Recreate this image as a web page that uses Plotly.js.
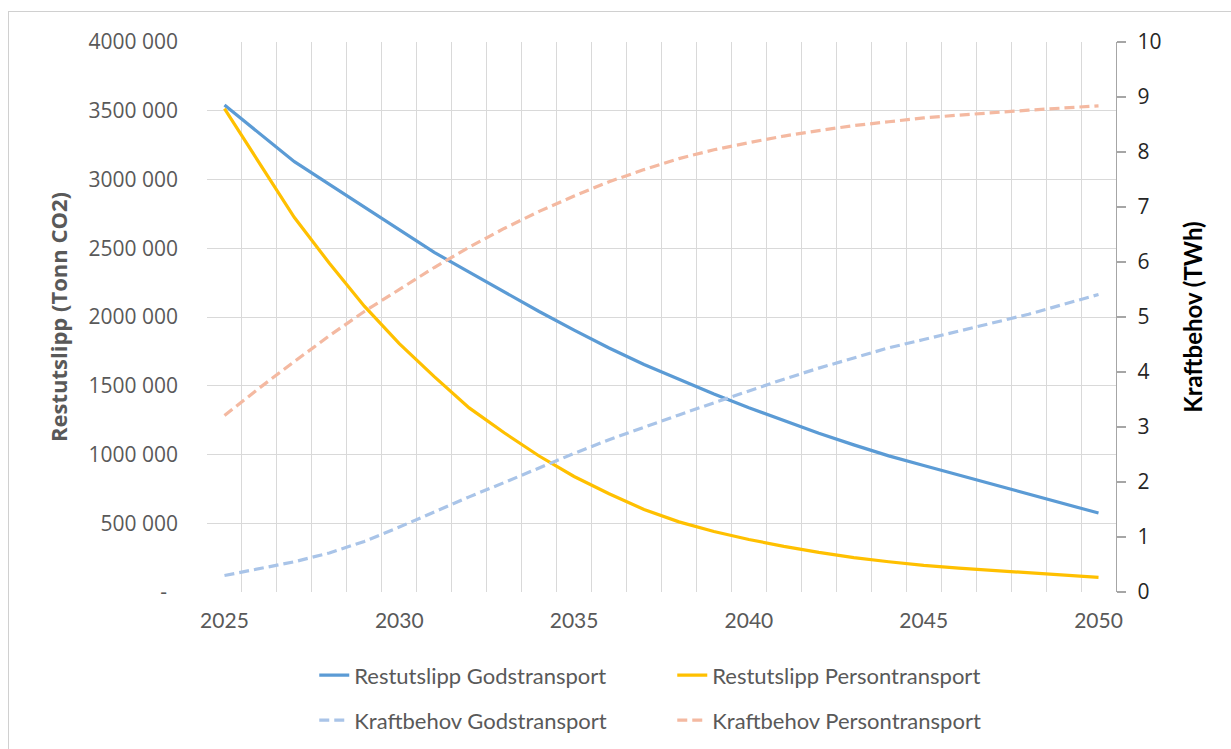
<!DOCTYPE html>
<html>
<head>
<meta charset="utf-8">
<script src="https://cdn.plot.ly/plotly-3.0.1.min.js"></script>
<style>
  html, body { margin: 0; padding: 0; background: #ffffff; }
  #wrap { position: relative; width: 1231px; height: 749px; overflow: hidden; }
  #chart { position: absolute; left: 0; top: 0; width: 1231px; height: 749px; }
  #frame { position: absolute; left: 8px; top: 11px; width: 1240px; height: 760px;
           border-left: 1px solid #d0d0d0; border-top: 1px solid #d0d0d0; pointer-events: none; }
</style>
</head>
<body>
<div id="wrap">
  <div id="chart"></div>
  <div id="frame"></div>
</div>
<script>
// ---- data ----
const years = [2025, 2026, 2027, 2028, 2029, 2030, 2031, 2032, 2033, 2034, 2035, 2036, 2037,
               2038, 2039, 2040, 2041, 2042, 2043, 2044, 2045, 2046, 2047, 2048, 2049, 2050];

// Restutslipp (Tonn CO2), left axis
const restGods = [3541000, 3336000, 3130000, 2965000, 2800000, 2635000, 2470000, 2326000, 2183000,
                  2040000, 1905000, 1775000, 1655000, 1545000, 1440000, 1340000, 1245000, 1155000,
                  1070000, 990000, 920000, 850000, 780000, 710000, 640000, 574000];
const restPerson = [3515000, 3117000, 2723000, 2391000, 2079000, 1807000, 1566000, 1339000, 1158000,
                    989000, 840000, 715000, 600000, 510000, 440000, 382000, 332000, 288000,
                    250000, 220000, 193000, 174000, 156000, 140000, 124000, 106000];

// Kraftbehov (TWh), right axis
const kraftGods = [0.30, 0.42, 0.55, 0.71, 0.92, 1.18, 1.46, 1.73, 1.99, 2.26, 2.52, 2.77, 3.00,
                   3.22, 3.44, 3.66, 3.87, 4.07, 4.26, 4.44, 4.59, 4.74, 4.89, 5.05, 5.23, 5.41];
const kraftPerson = [3.21, 3.71, 4.19, 4.66, 5.10, 5.50, 5.90, 6.27, 6.61, 6.92, 7.20, 7.46, 7.68,
                     7.88, 8.04, 8.17, 8.29, 8.39, 8.48, 8.55, 8.62, 8.67, 8.72, 8.76, 8.80, 8.84];

const seriesNames = ['Restutslipp Godstransport', 'Restutslipp Persontransport',
                     'Kraftbehov Godstransport', 'Kraftbehov Persontransport'];

const xTickVals = [2025, 2030, 2035, 2040, 2045, 2050];
const xTickText = ['2025', '2030', '2035', '2040', '2045', '2050'];
const yTickVals = [0, 500000, 1000000, 1500000, 2000000, 2500000, 3000000, 3500000, 4000000];
const yTickText = ['-\u00a0\u00a0', '500 000', '1000 000', '1500 000', '2000 000', '2500 000',
                   '3000 000', '3500 000', '4000 000'];
const y2TickVals = [0, 1, 2, 3, 4, 5, 6, 7, 8, 9, 10];

const leftTitle = 'Restutslipp (Tonn CO2)';
const rightTitle = 'Kraftbehov (TWh)';

// ---- styling ----
const narrow = 'Lato, "Open Sans", sans-serif';
const sans = '"Open Sans", "DejaVu Sans", sans-serif';
const gridCol = '#d9d9d9';

const traces = [
  { x: years, y: restGods, name: seriesNames[0], type: 'scatter', mode: 'lines',
    line: { color: '#5b9bd5', width: 3.2 }, yaxis: 'y', legend: 'legend' },
  { x: years, y: restPerson, name: seriesNames[1], type: 'scatter', mode: 'lines',
    line: { color: '#ffc000', width: 3.2 }, yaxis: 'y', legend: 'legend' },
  { x: years, y: kraftGods, name: seriesNames[2], type: 'scatter', mode: 'lines',
    line: { color: '#a9c4e8', width: 3.2, dash: '10px,5px' }, yaxis: 'y2', legend: 'legend2' },
  { x: years, y: kraftPerson, name: seriesNames[3], type: 'scatter', mode: 'lines',
    line: { color: '#f4b9a1', width: 3.2, dash: '10px,5px' }, yaxis: 'y2', legend: 'legend2' }
];

const legendCommon = {
  orientation: 'h', xanchor: 'left', yanchor: 'middle', x: 0.118,
  font: { family: narrow, size: 22, color: '#595959' },
  entrywidth: 313, entrywidthmode: 'pixels', bgcolor: 'rgba(0,0,0,0)', borderwidth: 0,
  traceorder: 'normal'
};

const layout = {
  width: 1231, height: 749,
  margin: { l: 207, r: 115, t: 42, b: 157, pad: 0, autoexpand: false },
  paper_bgcolor: 'rgba(0,0,0,0)', plot_bgcolor: '#ffffff',
  showlegend: true,
  legend: Object.assign({}, legendCommon, { y: -0.1515 }),
  legend2: Object.assign({}, legendCommon, { y: -0.2333 }),
  xaxis: {
    type: 'linear', range: [2024.5, 2050.5], fixedrange: true, automargin: false,
    tickmode: 'array', tickvals: xTickVals, ticktext: xTickText,
    showgrid: false, zeroline: false, showline: false, ticks: '',
    ticklabelstandoff: 14,
    tickfont: { family: narrow, size: 21, color: '#595959' },
    minor: { tickmode: 'linear', tick0: 2024.5, dtick: 1, showgrid: true,
             gridcolor: gridCol, gridwidth: 1, ticks: '' }
  },
  yaxis: {
    range: [0, 4000000], fixedrange: true, automargin: false,
    tickmode: 'array', tickvals: yTickVals, ticktext: yTickText,
    showgrid: true, gridcolor: gridCol, gridwidth: 1,
    zeroline: false, showline: false, ticks: '',
    ticklabelstandoff: 28,
    tickfont: { family: sans, size: 21, color: '#595959' },
    title: { text: leftTitle, standoff: 14,
             font: { family: sans, size: 22, color: '#595959', weight: 'bold' } }
  },
  yaxis2: {
    overlaying: 'y', side: 'right', range: [0, 10], fixedrange: true, automargin: false,
    tickmode: 'array', tickvals: y2TickVals,
    showgrid: false, zeroline: false,
    showline: true, linecolor: '#a6a6a6', linewidth: 1.3,
    ticks: 'outside', ticklen: 9, tickcolor: '#a6a6a6', tickwidth: 1.3,
    ticklabelstandoff: 7,
    tickfont: { family: sans, size: 21, color: '#262626' },
    title: { text: rightTitle, standoff: 24,
             font: { family: narrow, size: 24, color: '#000000', weight: 'bold' } }
  }
};

Plotly.newPlot('chart', traces, layout, { displayModeBar: false, staticPlot: true });
</script>
</body>
</html>
